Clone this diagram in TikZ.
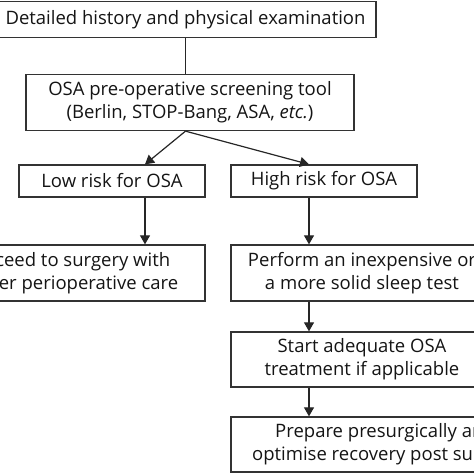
\documentclass[tikz,border=0pt]{standalone}
\usepackage{fontspec}
\setmainfont{Open Sans}
\usetikzlibrary{arrows.meta}
\begin{document}
\begin{tikzpicture}[x=1pt,y=-1pt,
  box/.style={draw=black!80, line width=1.3pt, align=center, inner sep=0pt,
    font=\fontsize{18.5}{23}\selectfont, text=black!92},
  arr/.style={draw=black!85, line width=1.2pt, -{Triangle[width=10pt,length=9pt]}},
  ln/.style={draw=black!85, line width=1.2pt}]
\useasboundingbox (0,0) rectangle (474,474);
\clip (0,0) rectangle (474,474);
\node[box, minimum width=381pt, minimum height=36pt] (hist) at (185.5,19.5) {Detailed history and physical examination};
\node[box, minimum width=328pt, minimum height=56pt] (osa) at (190,102.5) {OSA pre-operative screening tool\\(Berlin, STOP-Bang, ASA, \textit{etc.})};
\node[box, minimum width=186pt, minimum height=32pt] (low) at (112,181) {Low risk for OSA};
\node[box, minimum width=186pt, minimum height=32pt] (high) at (324,181) {High risk for OSA};
\node[box, minimum width=274pt, minimum height=56pt] (proc) at (68,273) {Proceed to surgery with\\proper perioperative care};
\node[box, minimum width=262pt, minimum height=56pt] (perf) at (362,273) {Perform an inexpensive or\\a more solid sleep test};
\node[box, minimum width=262pt, minimum height=55pt] (start) at (362,359.5) {Start adequate OSA\\treatment if applicable};
\node[box, minimum width=308pt, minimum height=55pt] (prep) at (385,444.5) {Prepare presurgically and\\optimise recovery post surgery};
\coordinate (fork) at (hist.south |- osa.south);
\coordinate (lx) at (145,0);
\coordinate (hx) at (309,0);
\draw[ln] (hist.south) -- (hist.south |- osa.north);
\draw[arr] (fork) -- (low.north -| lx);
\draw[arr] (fork) -- (high.north -| hx);
\draw[arr] (low.south -| lx) -- (proc.north -| lx);
\draw[arr] (high.south -| hx) -- (perf.north -| hx);
\draw[arr] (perf.south -| hx) -- (start.north -| hx);
\draw[arr] (start.south -| hx) -- (prep.north -| hx);
\end{tikzpicture}
\end{document}
